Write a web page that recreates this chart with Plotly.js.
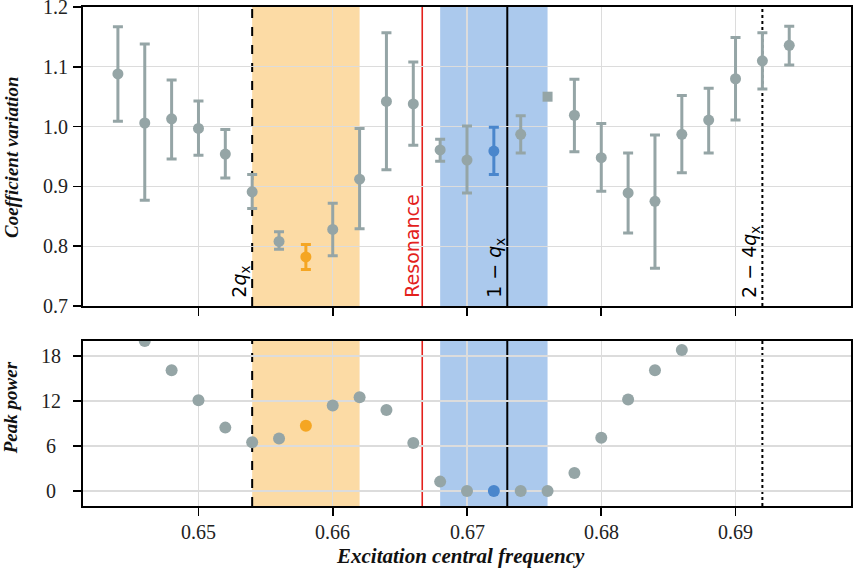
<!DOCTYPE html>
<html>
<head>
<meta charset="utf-8">
<script src="https://cdn.plot.ly/plotly-3.0.1.min.js"></script>
<style>html,body{margin:0;padding:0;background:#fff;}#chart{width:855px;height:573px;}</style>
</head>
<body>
<div id="chart"></div>
<script>
// ---- Data ----
// Top panel: coefficient of variation (gray points)
const grayFreq = [0.644, 0.646, 0.648, 0.650, 0.652, 0.654, 0.656, 0.660, 0.662, 0.664, 0.666, 0.668, 0.670, 0.674, 0.678, 0.680, 0.682, 0.684, 0.686, 0.688, 0.690, 0.692, 0.694];
const grayCV   = [1.088, 1.006, 1.013, 0.997, 0.954, 0.891, 0.808, 0.828, 0.912, 1.042, 1.038, 0.961, 0.944, 0.987, 1.019, 0.948, 0.889, 0.875, 0.987, 1.011, 1.080, 1.110, 1.136];
const grayCVHi = [1.167, 1.138, 1.078, 1.043, 0.995, 0.920, 0.824, 0.872, 0.997, 1.157, 1.108, 0.979, 1.001, 1.018, 1.079, 1.005, 0.956, 0.986, 1.052, 1.064, 1.149, 1.157, 1.168];
const grayCVLo = [1.009, 0.877, 0.946, 0.952, 0.914, 0.863, 0.795, 0.784, 0.829, 0.928, 0.969, 0.942, 0.889, 0.956, 0.958, 0.892, 0.822, 0.763, 0.923, 0.956, 1.011, 1.063, 1.103];
// highlighted points
const orangeFreq = [0.658], orangeCV = [0.782], orangeCVHi = [0.803], orangeCVLo = [0.761];
const blueFreq = [0.672],   blueCV = [0.959],   blueCVHi = [0.999],   blueCVLo = [0.920];
const squareFreq = [0.676], squareCV = [1.050];

// Bottom panel: peak power
const powerFreqGray = [0.646, 0.648, 0.650, 0.652, 0.654, 0.656, 0.660, 0.662, 0.664, 0.666, 0.668, 0.670, 0.674, 0.676, 0.678, 0.680, 0.682, 0.684, 0.686];
const powerGray     = [20.0, 16.1, 12.1, 8.45, 6.5, 7.0, 11.4, 12.5, 10.8, 6.4, 1.25, 0, 0, 0, 2.4, 7.1, 12.2, 16.1, 18.8];
const powerOrangeFreq = [0.658], powerOrange = [8.7];
const powerBlueFreq = [0.672],   powerBlue = [0];

// Reference frequencies
const qx = 0.327;
const lineTwoQ = 2 * qx;          // 0.654
const lineRes = 2 / 3;            // resonance
const lineOneMinusQ = 1 - qx;     // 0.673
const lineTwoMinus4Q = 2 - 4 * qx;// 0.692
const orangeBand = [0.654, 0.662];
const blueBand = [0.668, 0.676];

const xTicks = [0.65, 0.66, 0.67, 0.68, 0.69];
const xTickText = ['0.65', '0.66', '0.67', '0.68', '0.69'];
const cvTicks = [0.7, 0.8, 0.9, 1.0, 1.1, 1.2];
const cvTickText = ['0.7', '0.8', '0.9', '1.0', '1.1', '1.2'];
const powerTicks = [0, 6, 12, 18];
const powerTickText = ['0', '6', '12', '18'];

// ---- Styles ----
const GRAY = '#95a5a6', ORANGE = '#f5a623', BLUE = '#4a86cc';
const diff = (a, b) => a.map((v, i) => +(v - b[i]).toFixed(4));

function cvTrace(x, y, hi, lo, color) {
  return {
    x: x, y: y, xaxis: 'x', yaxis: 'y', type: 'scatter', mode: 'markers',
    marker: {color: color, size: 11},
    error_y: {type: 'data', symmetric: false, array: diff(hi, y), arrayminus: diff(y, lo),
              color: color, thickness: 3, width: 5},
    cliponaxis: false, hoverinfo: 'skip'
  };
}
function powTrace(x, y, color) {
  return {x: x, y: y, xaxis: 'x2', yaxis: 'y2', type: 'scatter', mode: 'markers',
          marker: {color: color, size: 12}, hoverinfo: 'skip'};
}

const data = [
  cvTrace(grayFreq, grayCV, grayCVHi, grayCVLo, GRAY),
  cvTrace(orangeFreq, orangeCV, orangeCVHi, orangeCVLo, ORANGE),
  cvTrace(blueFreq, blueCV, blueCVHi, blueCVLo, BLUE),
  {x: squareFreq, y: squareCV, xaxis: 'x', yaxis: 'y', type: 'scatter', mode: 'markers',
   marker: {color: GRAY, size: 10, symbol: 'square'}, hoverinfo: 'skip'},
  powTrace(powerFreqGray, powerGray, GRAY),
  powTrace(powerOrangeFreq, powerOrange, ORANGE),
  powTrace(powerBlueFreq, powerBlue, BLUE)
];

const shapes = [];
[['x', 'y domain'], ['x2', 'y2 domain']].forEach(([xr, yr]) => {
  shapes.push({type: 'rect', xref: xr, yref: yr, x0: orangeBand[0], x1: orangeBand[1], y0: 0, y1: 1,
               fillcolor: 'rgba(248,170,40,0.42)', line: {width: 0}, layer: 'below'});
  shapes.push({type: 'rect', xref: xr, yref: yr, x0: blueBand[0], x1: blueBand[1], y0: 0, y1: 1,
               fillcolor: 'rgba(45,120,210,0.40)', line: {width: 0}, layer: 'below'});
  shapes.push({type: 'line', xref: xr, yref: yr, x0: lineTwoQ, x1: lineTwoQ, y0: 0, y1: 1,
               line: {color: 'black', width: 2, dash: 'dash'}, layer: 'below'});
  shapes.push({type: 'line', xref: xr, yref: yr, x0: lineRes, x1: lineRes, y0: 0, y1: 1,
               line: {color: '#e3211c', width: 1.6}, layer: 'below'});
  shapes.push({type: 'line', xref: xr, yref: yr, x0: lineOneMinusQ, x1: lineOneMinusQ, y0: 0, y1: 1,
               line: {color: 'black', width: 2}, layer: 'below'});
  shapes.push({type: 'line', xref: xr, yref: yr, x0: lineTwoMinus4Q, x1: lineTwoMinus4Q, y0: 0, y1: 1,
               line: {color: 'black', width: 2, dash: 'dot'}, layer: 'below'});
});

function vlabel(x, text, color) {
  return {xref: 'x', yref: 'y domain', x: x, y: 0.02, xanchor: 'right', yanchor: 'bottom',
          text: text, textangle: -90, showarrow: false, xshift: 2,
          font: {family: 'DejaVu Sans', size: 19, color: color || 'black'}};
}
function titleAnn(text, x, y, angle, size) {
  return {xref: 'paper', yref: 'paper', x: x, y: y, xanchor: 'center', yanchor: 'middle',
          text: text, textangle: angle, showarrow: false,
          font: {family: 'Liberation Serif', size: size, color: '#111'}};
}
const serifSpan = t => '<span style="font-family:\'Liberation Serif\',\'Times New Roman\',serif;font-size:20px;font-weight:normal">' + t + '</span>';
function tickFont() { return {family: 'Liberation Serif', size: 20, color: '#222'}; }
function yTickLabels(vals, texts, yref, anchor, shift) {
  return vals.map((v, i) => ({xref: 'paper', yref: yref, x: 0, y: v, xanchor: anchor, yanchor: 'middle',
    xshift: shift, text: serifSpan(texts[i]), showarrow: false, font: tickFont()}));
}
function xTickLabels(vals, texts, xref) {
  return vals.map((v, i) => ({xref: xref, yref: 'paper', x: v, y: 0, xanchor: 'center', yanchor: 'top',
    yshift: -13, text: serifSpan(texts[i]), showarrow: false, font: tickFont()}));
}
const annotations = [
  vlabel(lineTwoQ, '2<i>q</i><sub>x</sub>'),
  vlabel(lineRes, 'Resonance', '#e3211c'),
  vlabel(lineOneMinusQ, '1 − <i>q</i><sub>x</sub>'),
  vlabel(lineTwoMinus4Q, '2 − 4<i>q</i><sub>x</sub>'),
  titleAnn('<b><i>Coefficient variation</i></b>', -0.094, 0.699, -90, 19),
  titleAnn('<b><i>Peak power</i></b>', -0.095, 0.196, -90, 19),
  titleAnn('<b><i>Excitation central frequency</i></b>', 0.491, -0.100, 0, 21)
].concat(yTickLabels(cvTicks, cvTickText, 'y', 'right', -13))
 .concat(yTickLabels(powerTicks, powerTickText, 'y2', 'center', -32))
 .concat(xTickLabels(xTicks, xTickText, 'x2'));

function axis(extra) {
  return Object.assign({
    showline: true, mirror: true, linecolor: 'black', linewidth: 2,
    ticks: 'outside', ticklen: 8, tickwidth: 1.6, tickcolor: 'black',
    showgrid: true, gridcolor: '#dcdcdc', gridwidth: 1.3, zeroline: false,
    tickmode: 'array', showticklabels: false
  }, extra);
}
const xRange = [0.6414, 0.6986];

const layout = {
  width: 855, height: 573,
  margin: {l: 83, r: 4, t: 7, b: 67},
  paper_bgcolor: 'white', plot_bgcolor: 'white',
  font: {family: 'Liberation Serif', size: 16, color: '#222'},
  showlegend: false,
  xaxis: axis({range: xRange, anchor: 'y', tickvals: xTicks}),
  yaxis: axis({range: [0.7, 1.2], domain: [0.4008, 1], anchor: 'x', tickvals: cvTicks}),
  xaxis2: axis({range: xRange, anchor: 'y2', tickvals: xTicks}),
  yaxis2: axis({range: [-2, 20], domain: [0, 0.3307], anchor: 'x2', tickvals: powerTicks}),
  shapes: shapes,
  annotations: annotations
};

Plotly.newPlot('chart', data, layout, {staticPlot: true, displayModeBar: false});
</script>
</body>
</html>
